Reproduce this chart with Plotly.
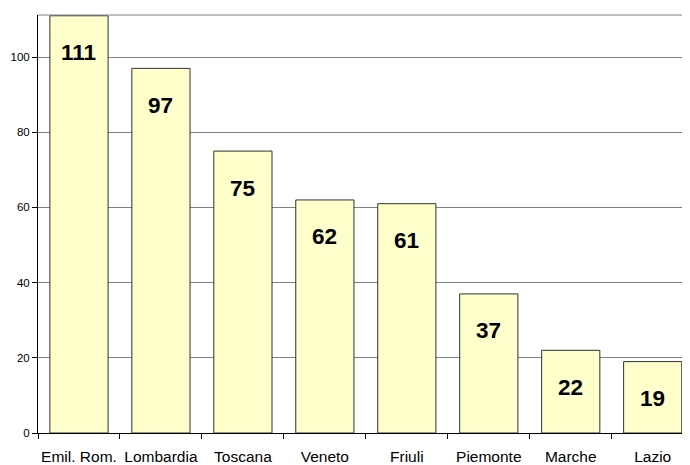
import plotly.graph_objects as go

categories = ["Emil. Rom.", "Lombardia", "Toscana", "Veneto", "Friuli", "Piemonte", "Marche", "Lazio"]
values = [111, 97, 75, 62, 61, 37, 22, 19]
y_ticks = [0, 20, 40, 60, 80, 100]

fig = go.Figure()
fig.add_trace(go.Bar(
    x=categories, y=values,
    marker=dict(color="#FFFFCC", line=dict(color="#303030", width=1)),
    width=0.71,
    hoverinfo="skip",
))

for c, v in zip(categories, values):
    fig.add_annotation(x=c, y=v, yshift=-37, text=str(v), showarrow=False,
                       font=dict(family="Liberation Sans, Arial", size=22.5, color="black", weight="bold"),
                       yanchor="middle", xanchor="center")

# top border of plot area
fig.add_shape(type="line", xref="paper", yref="paper", x0=0, x1=1, y0=1, y1=1,
              line=dict(color="#808080", width=1))

fig.update_layout(
    width=682, height=457, autosize=False,
    margin=dict(l=30, r=0, t=7, b=32),
    paper_bgcolor="white", plot_bgcolor="white",
    showlegend=False,
    bargap=0.29,
    xaxis=dict(
        type="category", range=[-0.5, 7.455],
        showline=True, linecolor="black", linewidth=1,
        ticks="outside", ticklen=5, tickcolor="black", tickson="boundaries",
        ticklabelstandoff=9, tickangle=0, automargin=False,
        showgrid=False,
        tickfont=dict(family="Liberation Sans, Arial", size=15.5, color="black"),
    ),
    yaxis=dict(
        range=[0, 111.2], tickvals=y_ticks,
        showline=True, linecolor="black", linewidth=1,
        ticks="outside", ticklen=5, tickcolor="black",
        showgrid=True, gridcolor="#808080", gridwidth=1,
        zeroline=False, automargin=False,
        tickfont=dict(family="Liberation Sans, Arial", size=11.5, color="black"),
    ),
)

fig.write_html("out.html")
